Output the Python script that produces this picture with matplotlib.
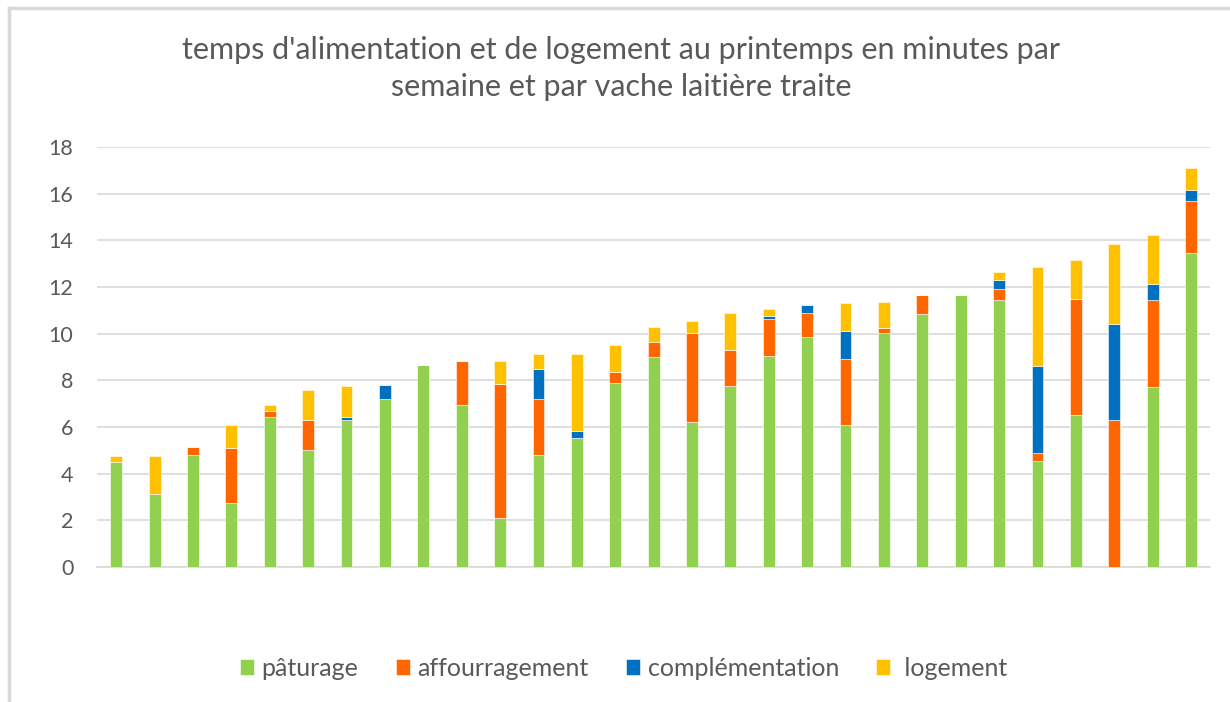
"""Stacked bars: feeding and housing time in spring per cow"""

import matplotlib
matplotlib.use("Agg")
import matplotlib.pyplot as plt
import numpy as np

# minutes per week per milked cow, one value per farm (29 farms)
paturage = [4.5, 3.15, 4.8, 2.75, 6.45, 5.0, 6.3, 7.2, 8.65, 6.95,
            2.1, 4.8, 5.55, 7.9, 9.0, 6.2, 7.75, 9.05, 9.85, 6.1,
            10.05, 10.85, 11.65, 11.45, 4.55, 6.5, 0.0, 7.7, 13.45]
affourragement = [0.0, 0.0, 0.35, 2.35, 0.25, 1.3, 0.0, 0.0, 0.0, 1.9,
                  5.75, 2.4, 0.0, 0.45, 0.65, 3.85, 1.55, 1.6, 1.05, 2.8,
                  0.2, 0.8, 0.0, 0.45, 0.35, 5.0, 6.3, 3.75, 2.25]
complementation = [0.0, 0.0, 0.0, 0.0, 0.0, 0.0, 0.15, 0.6, 0.0, 0.0,
                   0.0, 1.3, 0.3, 0.0, 0.0, 0.0, 0.0, 0.1, 0.35, 1.2,
                   0.0, 0.0, 0.0, 0.4, 3.7, 0.0, 4.1, 0.7, 0.45]
logement = [0.25, 1.6, 0.0, 1.0, 0.25, 1.3, 1.3, 0.0, 0.0, 0.0,
            1.0, 0.65, 3.3, 1.15, 0.65, 0.5, 1.6, 0.3, 0.0, 1.2,
            1.1, 0.0, 0.0, 0.35, 4.25, 1.65, 3.45, 2.1, 0.95]

series = [
    ("pâturage", paturage, "#92D050"),
    ("affourragement", affourragement, "#FF6600"),
    ("complémentation", complementation, "#0070C0"),
    (" logement", logement, "#FFC000"),
]

plt.rcParams["font.family"] = ["Lato", "DejaVu Sans"]
text_color = "#595959"

fig = plt.figure(figsize=(12.3, 7.02), dpi=100)
ax = fig.add_axes([0.0789, 0.1923, 0.905, 0.5983])

x = np.arange(len(paturage))
bottom = np.zeros(len(paturage))
for name, values, color in series:
    vals = np.array(values)
    ax.bar(x, vals, width=0.31, bottom=bottom, color=color, label=name,
           edgecolor="white", linewidth=0.4, zorder=3)
    bottom += vals

ax.set_xlim(-0.5, len(paturage) - 0.5)
ax.set_ylim(0, 18)
ax.set_yticks(np.arange(0, 19, 2))
ax.set_xticks([])
ax.grid(axis="y", color="#D9D9D9", linewidth=1.2, zorder=0)
for side in ["top", "right", "left"]:
    ax.spines[side].set_visible(False)
ax.spines["bottom"].set_color("#D9D9D9")
ax.spines["bottom"].set_linewidth(1.2)
ax.tick_params(axis="y", length=0, labelsize=15.5, labelcolor=text_color, pad=17)

fig.text(0.505, 0.902, "temps d'alimentation et de logement au printemps en minutes par\n"
         "semaine et par vache laitière traite",
         ha="center", va="center", fontsize=22, color=text_color, linespacing=1.38)

leg = fig.legend(loc="center", bbox_to_anchor=(0.507, 0.048), ncol=4, frameon=False,
                 fontsize=18, handlelength=0.56, handleheight=0.56,
                 handletextpad=0.3, columnspacing=1.5)
for t in leg.get_texts():
    t.set_color(text_color)

# light frame lines (top and left) like the spreadsheet export
fig.add_artist(plt.Line2D([0.007, 1.0], [0.988, 0.988], transform=fig.transFigure,
                          color="#D9D9D9", linewidth=2.5))
fig.add_artist(plt.Line2D([0.007, 0.007], [0.0, 0.988], transform=fig.transFigure,
                          color="#D9D9D9", linewidth=2.5))

fig.savefig("out.png", dpi=100)
